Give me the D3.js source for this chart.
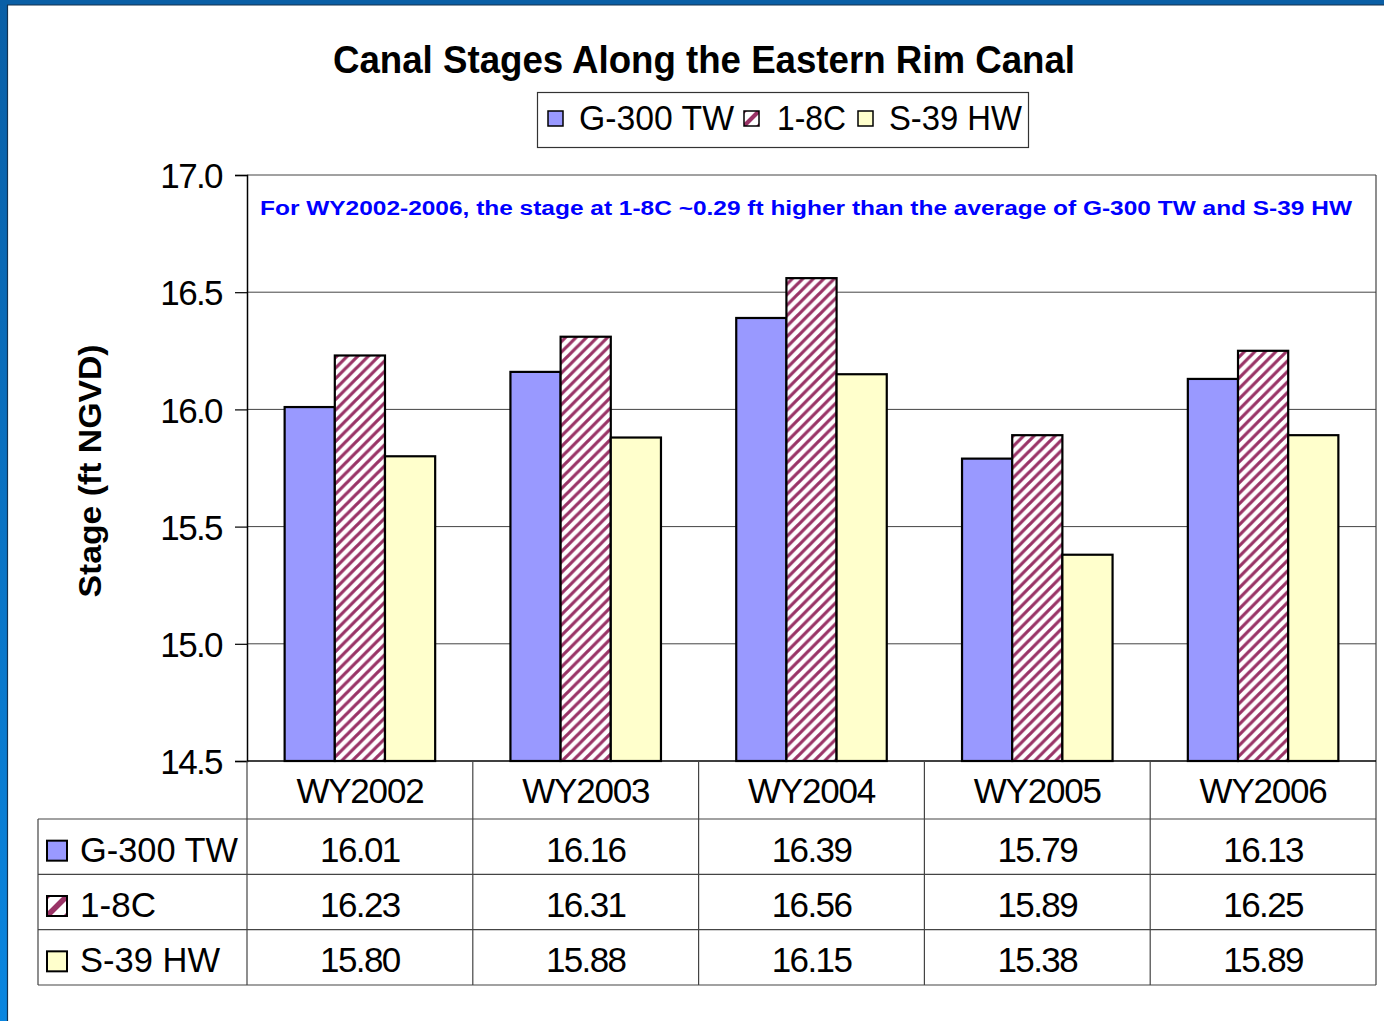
<!DOCTYPE html>
<html>
<head>
<meta charset="utf-8">
<script src="https://cdn.jsdelivr.net/npm/d3@7"></script>
<style>
  html, body { margin: 0; padding: 0; background: #fff; }
  svg { display: block; font-family: "Liberation Sans", Arial, sans-serif; }
</style>
</head>
<body>
<svg id="chart" width="1384" height="1021"></svg>
<script>
// Water years on the category axis
const years = ["WY2002", "WY2003", "WY2004", "WY2005", "WY2006"];
// Station names (series)
const stations = ["G-300 TW", "1-8C", "S-39 HW"];
// Mean stage per water year, ft NGVD
const g300 = [16.01, 16.16, 16.39, 15.79, 16.13];
const s18c = [16.23, 16.31, 16.56, 15.89, 16.25];
const s39 = [15.80, 15.88, 16.15, 15.38, 15.89];
// Y axis ticks
const yTicks = [14.5, 15.0, 15.5, 16.0, 16.5, 17.0];

const title = "Canal Stages Along the Eastern Rim Canal";
const note = "For WY2002-2006, the stage at 1-8C ~0.29 ft higher than the average of G-300 TW and S-39 HW";
const yLabel = "Stage (ft NGVD)";

const seriesValues = [g300, s18c, s39];
const fills = ["#9999ff", "url(#hatch)", "#ffffcc"];

const svg = d3.select("#chart");
const defs = svg.append("defs");

// Frame gradient
const grad = defs.append("linearGradient").attr("id", "frame").attr("x1", 0).attr("y1", 0).attr("x2", 0).attr("y2", 1);
grad.append("stop").attr("offset", "0%").attr("stop-color", "#0a5fa6");
grad.append("stop").attr("offset", "100%").attr("stop-color", "#0a86e0");

// Upward diagonal hatch for 1-8C
const pat = defs.append("pattern").attr("id", "hatch")
  .attr("patternUnits", "userSpaceOnUse").attr("width", 10.5).attr("height", 10.5);
pat.append("rect").attr("width", 10.5).attr("height", 10.5).attr("fill", "#fff");
pat.append("path").attr("d", "M-2.5,2.5 L2.5,-2.5 M0,10.5 L10.5,0 M8,13 L13,8")
  .attr("stroke", "#993366").attr("stroke-width", 3.2);

// Small key hatch
const kpat = defs.append("pattern").attr("id", "khatch")
  .attr("patternUnits", "objectBoundingBox").attr("patternContentUnits", "objectBoundingBox")
  .attr("width", 1).attr("height", 1);
kpat.append("rect").attr("width", 1).attr("height", 1).attr("fill", "#fff");
kpat.append("path").attr("d", "M0,1 L1,0 M-0.3,0.3 L0.3,-0.3 M0.7,1.3 L1.3,0.7")
  .attr("stroke", "#993366").attr("stroke-width", 0.28);
const keyFills = ["#9999ff", "url(#khatch)", "#ffffcc"];

// Blue frame at top and left
svg.append("rect").attr("x", 0).attr("y", 0).attr("width", 1384).attr("height", 5).attr("fill", "#0a5fa6");
svg.append("rect").attr("x", 0).attr("y", 0).attr("width", 7).attr("height", 1021).attr("fill", "url(#frame)");
svg.append("line").attr("x1", 7).attr("x2", 1384).attr("y1", 5).attr("y2", 5).attr("stroke", "#14324f").attr("stroke-width", 1.2);
svg.append("line").attr("x1", 7.5).attr("x2", 7.5).attr("y1", 5).attr("y2", 1021).attr("stroke", "#14324f").attr("stroke-width", 1.2);

// Scales
const plotL = 247, plotR = 1376, plotT = 175, plotB = 761;
const x = d3.scaleBand().domain(years).range([plotL, plotR]).padding(0);
const xs = d3.scaleBand().domain(stations).range([0, x.bandwidth()]).paddingInner(0).paddingOuter(0.75);
const y = d3.scaleLinear().domain([14.5, 17.0]).range([plotB, plotT]);

// Gridlines
svg.append("g").selectAll("line").data(yTicks.filter(t => t > 14.5))
  .join("line")
  .attr("x1", plotL).attr("x2", plotR)
  .attr("y1", d => y(d)).attr("y2", d => y(d))
  .attr("stroke", "#444").attr("stroke-width", 1);

// Plot area right border
svg.append("line").attr("x1", plotR).attr("x2", plotR).attr("y1", plotT).attr("y2", 985)
  .attr("stroke", "#444").attr("stroke-width", 1.2);

// Bars
const bars = svg.append("g");
seriesValues.forEach((vals, si) => {
  bars.append("g").selectAll("rect").data(vals).join("rect")
    .attr("x", (d, i) => x(years[i]) + xs(stations[si]))
    .attr("width", xs.bandwidth())
    .attr("y", d => y(d))
    .attr("height", d => y(14.5) - y(d))
    .attr("fill", fills[si])
    .attr("stroke", "#000").attr("stroke-width", 2.2);
});

// Y axis
const yAxis = d3.axisLeft(y).tickValues(yTicks).tickFormat(d3.format(".1f")).tickSize(12).tickPadding(13);
const ya = svg.append("g").attr("transform", `translate(${plotL},0)`).call(yAxis);
ya.select(".domain").attr("stroke", "#000").attr("stroke-width", 1.5);
ya.selectAll(".tick line").attr("stroke", "#000").attr("stroke-width", 1.2);
ya.selectAll(".tick text").attr("font-size", 35).attr("fill", "#000")
  .attr("font-family", "Liberation Sans, Arial, sans-serif").attr("letter-spacing", "-1.6px").attr("dy", "0.36em");

// Bottom axis line
svg.append("line").attr("x1", plotL).attr("x2", plotR).attr("y1", plotB).attr("y2", plotB)
  .attr("stroke", "#000").attr("stroke-width", 1.5);

// Title
svg.append("text").attr("x", 704).attr("y", 73).attr("text-anchor", "middle")
  .attr("font-size", 38).attr("font-weight", "bold").attr("textLength", 742).attr("lengthAdjust", "spacingAndGlyphs")
  .text(title);

// Legend
svg.append("rect").attr("x", 537.5).attr("y", 92.5).attr("width", 491).attr("height", 55)
  .attr("fill", "#fff").attr("stroke", "#333").attr("stroke-width", 1.2);
const legX = [548, 744, 858];
const legTextX = [579, 777, 889];
const legW = [155, 69, 133];
stations.forEach((s, i) => {
  svg.append("rect").attr("x", legX[i]).attr("y", 111).attr("width", 15).attr("height", 15)
    .attr("fill", keyFills[i]).attr("stroke", "#000").attr("stroke-width", 1.5);
  svg.append("text").attr("x", legTextX[i]).attr("y", 130).attr("font-size", 35)
    .attr("textLength", legW[i]).attr("lengthAdjust", "spacingAndGlyphs").text(s);
});

// Note inside the plot
svg.append("text").attr("x", 260).attr("y", 215).attr("font-size", 20).attr("font-weight", "bold")
  .attr("fill", "#0000ff").attr("textLength", 1092).attr("lengthAdjust", "spacingAndGlyphs").text(note);

// Y axis title
svg.append("text").attr("transform", "translate(101,471) rotate(-90)").attr("text-anchor", "middle")
  .attr("font-size", 32).attr("font-weight", "bold").attr("textLength", 253).attr("lengthAdjust", "spacingAndGlyphs")
  .text(yLabel);

// Data table
const tableL = 38, tableB = 985;
const rows = d3.scaleBand().domain(stations).range([819, tableB]);
const tbl = svg.append("g");
// Horizontal rules
tbl.selectAll("line.h").data([819, ...stations.slice(1).map(s => rows(s)), tableB]).join("line")
  .attr("class", "h").attr("x1", tableL).attr("x2", plotR).attr("y1", d => d).attr("y2", d => d)
  .attr("stroke", "#444").attr("stroke-width", 1.2);
// Left border of table
tbl.append("line").attr("x1", tableL).attr("x2", tableL).attr("y1", 819).attr("y2", tableB)
  .attr("stroke", "#444").attr("stroke-width", 1.2);
// Column dividers
tbl.selectAll("line.v").data(years).join("line").attr("class", "v")
  .attr("x1", d => x(d)).attr("x2", d => x(d)).attr("y1", plotB).attr("y2", tableB)
  .attr("stroke", "#444").attr("stroke-width", 1.2);
// Category labels
tbl.selectAll("text.cat").data(years).join("text").attr("class", "cat")
  .attr("x", d => x(d) + x.bandwidth() / 2).attr("y", 803).attr("text-anchor", "middle")
  .attr("font-size", 35).attr("letter-spacing", "-1.2px").text(d => d);
// Row keys and names
const rowNameW = [158, 76, 140];
stations.forEach((s, si) => {
  const cy = rows(s) + rows.bandwidth() / 2;
  tbl.append("rect").attr("x", 47).attr("y", cy - 6).attr("width", 20).attr("height", 20)
    .attr("fill", keyFills[si]).attr("stroke", "#000").attr("stroke-width", 2);
  tbl.append("text").attr("x", 80).attr("y", cy + 15).attr("font-size", 35)
    .attr("textLength", rowNameW[si]).attr("lengthAdjust", "spacingAndGlyphs").text(s);
  tbl.append("g").selectAll("text").data(seriesValues[si]).join("text")
    .attr("x", (d, i) => x(years[i]) + x.bandwidth() / 2).attr("y", cy + 15)
    .attr("text-anchor", "middle").attr("font-size", 35).attr("letter-spacing", "-1.6px")
    .text(d => d3.format(".2f")(d));
});
</script>
</body>
</html>
